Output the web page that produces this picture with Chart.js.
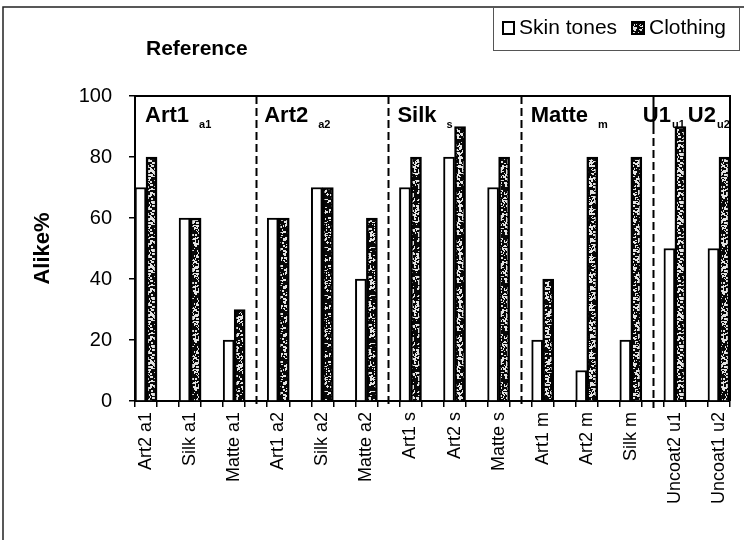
<!DOCTYPE html>
<html lang="en">
<head>
  <meta charset="UTF-8" />
  <title>Reference</title>
  <script src="https://cdn.jsdelivr.net/npm/chart.js"></script>
  <style>
    html, body { margin: 0; padding: 0; background: #fff; }
    .wrap { position: relative; width: 748px; height: 540px; }
  </style>
</head>
<body>
  <div class="wrap">
    <canvas id="chart"></canvas>
  </div>

  <script>
    // one entry per image pair
    const categories = ['Art2 a1', 'Silk a1', 'Matte a1', 'Art1 a2', 'Silk a2', 'Matte a2',
      'Art1 s', 'Art2 s', 'Matte s', 'Art1 m', 'Art2 m', 'Silk m', 'Uncoat2 u1', 'Uncoat1 u2'];
    const skinTones = [70, 60, 20, 60, 70, 40, 70, 80, 70, 20, 10, 20, 50, 50];
    const clothing  = [80, 60, 30, 60, 70, 60, 80, 90, 80, 40, 80, 80, 90, 80];
    const yTicks = [0, 20, 40, 60, 80, 100];

    // reference paper headings along the top of the plot
    const sectionNames = ['Art1', 'Art2', 'Silk', 'Matte', 'U1', 'U2'];
    const sectionSubs  = ['a1', 'a2', 's', 'm', 'u1', 'u2'];

    const FONT = '"Liberation Sans", Arial, sans-serif';

    // an empty slot goes between every pair of bars
    function spread(arr, blank) {
      const out = [];
      arr.forEach((v, i) => {
        out.push(v);
        if (i < arr.length - 1) out.push(blank);
      });
      return out;
    }

    // dark bars with coarse light speckle, like the printed screen
    function speckle() {
      const c = document.createElement('canvas');
      c.width = c.height = 48;
      const g = c.getContext('2d');
      g.fillStyle = '#080808';
      g.fillRect(0, 0, 48, 48);
      g.fillStyle = '#e4e4e4';
      let s = 98765;
      const next = () => { s ^= s << 13; s ^= s >>> 17; s ^= s << 5; return (s >>> 0); };
      for (let i = 0; i < 430; i++) {
        const x = next() % 48, y = next() % 48;
        g.fillRect(x, y, 1 + (next() % 3), 1 + (next() % 2));
      }
      return g.createPattern(c, 'repeat');
    }
    const clothFill = speckle();

    const labels = spread(categories, '');
    // slot index of the gap after every third pair
    const dividers = [5, 11, 17, 23];

    const decor = {
      id: 'decor',
      afterDatasetsDraw(chart) {
        const { ctx, chartArea: a, scales: { x } } = chart;
        ctx.save();
        ctx.strokeStyle = '#000';

        // plot frame top and right
        ctx.lineWidth = 2;
        ctx.beginPath();
        ctx.moveTo(a.left, a.top);
        ctx.lineTo(a.right, a.top);
        ctx.lineTo(a.right, a.bottom);
        ctx.stroke();

        // dashed dividers between the paper groups
        dividers.forEach((d, i) => {
          const px = Math.round(x.getPixelForValue(d)) + 0.5;
          ctx.setLineDash([8, 4]);
          ctx.beginPath();
          ctx.moveTo(px, a.top + (i === 3 ? 30 : 0));
          ctx.lineTo(px, a.bottom + 7);
          ctx.stroke();
          if (i === 3) {
            ctx.setLineDash([]);
            ctx.beginPath();
            ctx.moveTo(px, a.top);
            ctx.lineTo(px, a.top + 30);
            ctx.stroke();
          }
        });
        ctx.setLineDash([]);

        // group headings with subscripts
        const d = dividers.map(v => x.getPixelForValue(v));
        const anchors = [a.left + 10, d[0] + 8, d[1] + 9, d[2] + 10, d[3] - 10, d[3] + 35];
        const subGap = [10, 10, 10, 10, 1, 1];
        ctx.fillStyle = '#000';
        ctx.textBaseline = 'alphabetic';
        ctx.textAlign = 'left';
        sectionNames.forEach((name, i) => {
          ctx.font = 'bold 22px ' + FONT;
          ctx.fillText(name, anchors[i], a.top + 26);
          const w = ctx.measureText(name).width;
          ctx.font = 'bold 11px ' + FONT;
          ctx.fillText(sectionSubs[i], anchors[i] + w + subGap[i], a.top + 32);
        });
        ctx.restore();
      },
      afterDraw(chart) {
        const { ctx } = chart;
        ctx.save();

        // page frame
        ctx.strokeStyle = '#222';
        ctx.lineWidth = 1.5;
        ctx.beginPath();
        ctx.moveTo(3, 540);
        ctx.lineTo(3, 7);
        ctx.lineTo(744, 7);
        ctx.stroke();

        // title
        ctx.fillStyle = '#000';
        ctx.font = 'bold 21px ' + FONT;
        ctx.textAlign = 'left';
        ctx.textBaseline = 'alphabetic';
        ctx.fillText('Reference', 146, 55);

        // legend box
        ctx.fillStyle = '#fff';
        ctx.fillRect(493, 7, 247, 44);
        ctx.strokeStyle = '#555';
        ctx.lineWidth = 1;
        ctx.strokeRect(493.5, 7.5, 246, 43);

        const sets = chart.data.datasets;
        ctx.lineWidth = 2;
        ctx.strokeStyle = '#000';
        ctx.fillStyle = sets[0].backgroundColor;
        ctx.fillRect(503, 22, 11, 12);
        ctx.strokeRect(503, 22, 11, 12);
        ctx.fillStyle = sets[1].backgroundColor;
        ctx.fillRect(632, 22, 12, 12);
        ctx.strokeRect(632, 22, 12, 12);

        ctx.fillStyle = '#000';
        ctx.font = '21px ' + FONT;
        ctx.textBaseline = 'middle';
        ctx.fillText(sets[0].label, 519, 28);
        ctx.fillText(sets[1].label, 649, 28);
        ctx.restore();
      }
    };

    new Chart(document.getElementById('chart'), {
      type: 'bar',
      data: {
        labels: labels,
        datasets: [
          {
            label: 'Skin tones',
            data: spread(skinTones, null),
            backgroundColor: '#fff',
            borderColor: '#000',
            borderWidth: 2
          },
          {
            label: 'Clothing',
            data: spread(clothing, null),
            backgroundColor: clothFill,
            borderColor: '#000',
            borderWidth: 2.5
          }
        ]
      },
      options: {
        responsive: true,
        maintainAspectRatio: false,
        animation: false,
        layout: { padding: { left: 0, right: 18, top: 96, bottom: 0 } },
        datasets: {
          bar: { categoryPercentage: 1, barPercentage: 1, borderSkipped: 'start' }
        },
        plugins: {
          legend: { display: false },
          tooltip: { enabled: false }
        },
        scales: {
          x: {
            afterFit: s => { s.height = 139; },
            border: { display: true, color: '#000', width: 2 },
            grid: {
              offset: true,
              drawOnChartArea: false,
              drawTicks: true,
              tickLength: 6,
              color: '#000',
              lineWidth: 1.5
            },
            ticks: {
              autoSkip: false,
              minRotation: 90,
              maxRotation: 90,
              padding: 5,
              color: '#000',
              font: { family: FONT, size: 18 }
            }
          },
          y: {
            min: 0,
            max: 100,
            afterFit: s => { s.width = 135; },
            afterBuildTicks: s => { s.ticks = yTicks.map(v => ({ value: v })); },
            border: { display: true, color: '#000', width: 2 },
            grid: {
              drawOnChartArea: false,
              drawTicks: true,
              tickLength: 6,
              color: '#000',
              lineWidth: 1.5
            },
            ticks: {
              padding: 17,
              color: '#000',
              font: { family: FONT, size: 20 }
            },
            title: {
              display: true,
              text: 'Alike%',
              color: '#000',
              padding: { top: 30, bottom: 0 },
              font: { family: FONT, size: 22, weight: 'bold' }
            }
          }
        }
      },
      plugins: [decor]
    });
  </script>
</body>
</html>
